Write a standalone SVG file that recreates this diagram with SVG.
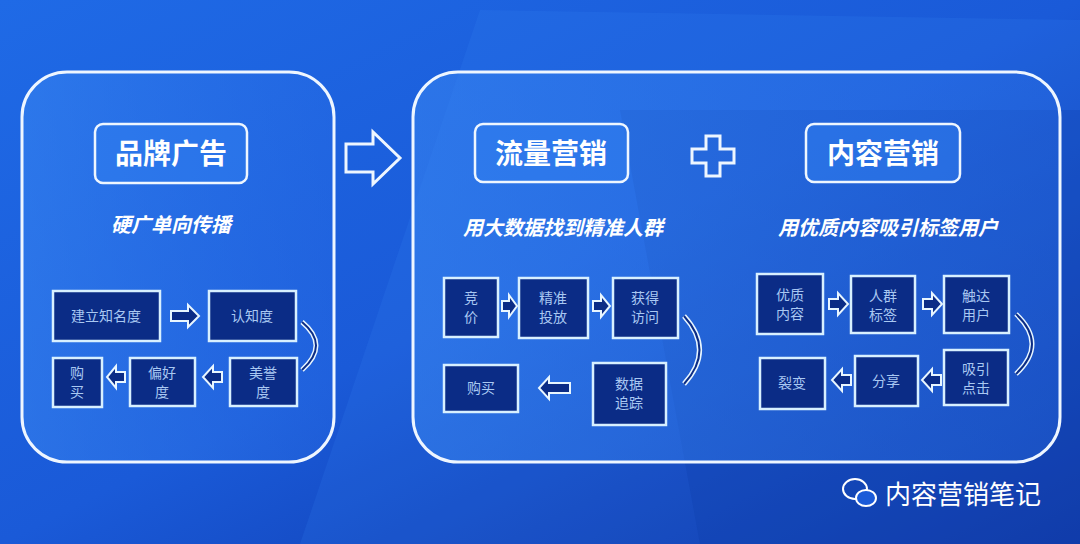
<svg xmlns="http://www.w3.org/2000/svg" width="1080" height="544" viewBox="0 0 1080 544">
<defs>
<linearGradient id="bg" x1="0" y1="0" x2="1" y2="1"><stop offset="0" stop-color="#1f6ae6"/><stop offset="0.5" stop-color="#1a5ad8"/><stop offset="1" stop-color="#0b2f9e"/></linearGradient>
<linearGradient id="pn" x1="0" y1="0" x2="1" y2="0"><stop offset="0" stop-color="#3b88f2" stop-opacity="0.5"/><stop offset="1" stop-color="#2a6ee6" stop-opacity="0.35"/></linearGradient>
</defs>
<style>
.panel{fill:url(#pn);stroke:#eef6ff;stroke-width:3}
.title{fill:#2f7ef0;fill-opacity:0.5;stroke:#eef6ff;stroke-width:2.5}
.tt{font-family:"Noto Sans CJK SC",sans-serif;font-weight:bold;font-size:28px;fill:#fff;text-anchor:middle}
.sub{font-family:"Noto Sans CJK SC",sans-serif;font-weight:bold;font-style:italic;font-size:20px;fill:#fff;text-anchor:middle}
.box{fill:#0b2c86;stroke:#d8f0ff;stroke-width:2.5}
.bt{font-family:"Noto Sans CJK SC",sans-serif;font-size:14px;fill:#a9c8f2;text-anchor:middle}
.ar{fill:#0b2c86;stroke:#e8f6ff;stroke-width:2}
.cv{fill:none;stroke:#e8f6ff;stroke-width:5}
.cvi{fill:none;stroke:#0b2c86;stroke-width:2}
</style>
<rect width="1080" height="544" fill="url(#bg)"/>
<polygon points="480,10 1080,20 1080,544 300,544" fill="#3b8af5" opacity="0.15"/>
<polygon points="620,110 1080,110 1080,544 700,544" fill="#0d3aa8" opacity="0.25"/>
<g id="panel-left"><rect class="panel" x="22" y="72" width="312" height="390" rx="45"/></g>
<g id="panel-right"><rect class="panel" x="413" y="72" width="647" height="390" rx="45"/></g>
<g id="big-arrow"><polygon points="346,144 373,144 373,132 400,158 373,184 373,172 346,172" fill="none" stroke="#eef6ff" stroke-width="3"/></g>
<g id="plus"><path d="M706,136h14v13h14v14h-14v13h-14v-13h-14v-14h14z" fill="none" stroke="#eef6ff" stroke-width="3"/></g>
<g id="t1"><rect class="title" x="95" y="124" width="152" height="59" rx="8"/><text class="tt" x="171" y="164">品牌广告</text></g>
<g id="t2"><rect class="title" x="475" y="124" width="153" height="58" rx="8"/><text class="tt" x="551" y="164">流量营销</text></g>
<g id="t3"><rect class="title" x="806" y="124" width="154" height="58" rx="8"/><text class="tt" x="883" y="164">内容营销</text></g>
<text class="sub" x="171" y="232">硬广单向传播</text>
<text class="sub" x="563" y="235">用大数据找到精准人群</text>
<text class="sub" x="888" y="235">用优质内容吸引标签用户</text>
<g id="connectors">
<polygon class="ar" points="171,311 188,311 188,305 199,316 188,327 188,321 171,321"/>
<polygon class="ar" points="125,372 116,372 116,366 107,377 116,388 116,382 125,382"/>
<polygon class="ar" points="222,372 213,372 213,366 203,377 213,388 213,382 222,382"/>
<path class="cv" d="M302,322 Q330,345 302,370"/><path class="cvi" d="M302,322 Q330,345 302,370"/>
<polygon class="ar" points="502,301 509,301 509,295 517,306 509,317 509,311 502,311"/>
<polygon class="ar" points="593,301 601,301 601,295 610,306 601,317 601,311 593,311"/>
<polygon class="ar" points="570,383 549,383 549,377 539,388 549,399 549,393 570,393"/>
<path class="cv" d="M684,316 Q715,350 684,384"/><path class="cvi" d="M684,316 Q715,350 684,384"/>
<polygon class="ar" points="829,299 838,299 838,293 848,304 838,315 838,309 829,309"/>
<polygon class="ar" points="923,299 932,299 932,293 942,304 932,315 932,309 923,309"/>
<polygon class="ar" points="941,375 932,375 932,369 922,380 932,391 932,385 941,385"/>
<polygon class="ar" points="851,375 842,375 842,369 832,380 842,391 842,385 851,385"/>
<path class="cv" d="M1016,314 Q1048,344 1016,374"/><path class="cvi" d="M1016,314 Q1048,344 1016,374"/>
</g>
<g id="n1"><rect class="box" x="53" y="291" width="107" height="50"/><text class="bt" x="106" y="321">建立知名度</text></g>
<g id="n2"><rect class="box" x="209" y="291" width="87" height="50"/><text class="bt" x="252" y="321">认知度</text></g>
<g id="n3"><rect class="box" x="230" y="358" width="67" height="48"/><text class="bt" x="263" y="378">美誉</text><text class="bt" x="263" y="397">度</text></g>
<g id="n4"><rect class="box" x="130" y="358" width="65" height="48"/><text class="bt" x="162" y="378">偏好</text><text class="bt" x="162" y="397">度</text></g>
<g id="n5"><rect class="box" x="53" y="358" width="49" height="49"/><text class="bt" x="77" y="378">购</text><text class="bt" x="77" y="397">买</text></g>
<g id="m1"><rect class="box" x="444" y="278" width="54" height="59"/><text class="bt" x="471" y="303">竞</text><text class="bt" x="471" y="322">价</text></g>
<g id="m2"><rect class="box" x="519" y="278" width="69" height="60"/><text class="bt" x="553" y="303">精准</text><text class="bt" x="553" y="322">投放</text></g>
<g id="m3"><rect class="box" x="613" y="278" width="65" height="60"/><text class="bt" x="645" y="303">获得</text><text class="bt" x="645" y="322">访问</text></g>
<g id="m4"><rect class="box" x="593" y="363" width="73" height="62"/><text class="bt" x="629" y="389">数据</text><text class="bt" x="629" y="408">追踪</text></g>
<g id="m5"><rect class="box" x="444" y="365" width="74" height="47"/><text class="bt" x="481" y="393">购买</text></g>
<g id="r1"><rect class="box" x="757" y="274" width="66" height="60"/><text class="bt" x="790" y="300">优质</text><text class="bt" x="790" y="319">内容</text></g>
<g id="r2"><rect class="box" x="851" y="276" width="64" height="57"/><text class="bt" x="883" y="301">人群</text><text class="bt" x="883" y="320">标签</text></g>
<g id="r3"><rect class="box" x="944" y="276" width="65" height="57"/><text class="bt" x="976" y="301">触达</text><text class="bt" x="976" y="320">用户</text></g>
<g id="r4"><rect class="box" x="944" y="350" width="64" height="55"/><text class="bt" x="976" y="374">吸引</text><text class="bt" x="976" y="393">点击</text></g>
<g id="r5"><rect class="box" x="855" y="356" width="63" height="50"/><text class="bt" x="886" y="386">分享</text></g>
<g id="r6"><rect class="box" x="760" y="358" width="65" height="51"/><text class="bt" x="792" y="388">裂变</text></g>
<g id="watermark">
<ellipse cx="855" cy="489" rx="12" ry="10" fill="none" stroke="#fff" stroke-width="2"/>
<ellipse cx="866" cy="498" rx="10" ry="8" fill="#1a5ad8" stroke="#fff" stroke-width="2"/>
<text x="885" y="504" font-family="Noto Sans CJK SC,sans-serif" font-size="26" fill="#fff">内容营销笔记</text>
</g>
</svg>
